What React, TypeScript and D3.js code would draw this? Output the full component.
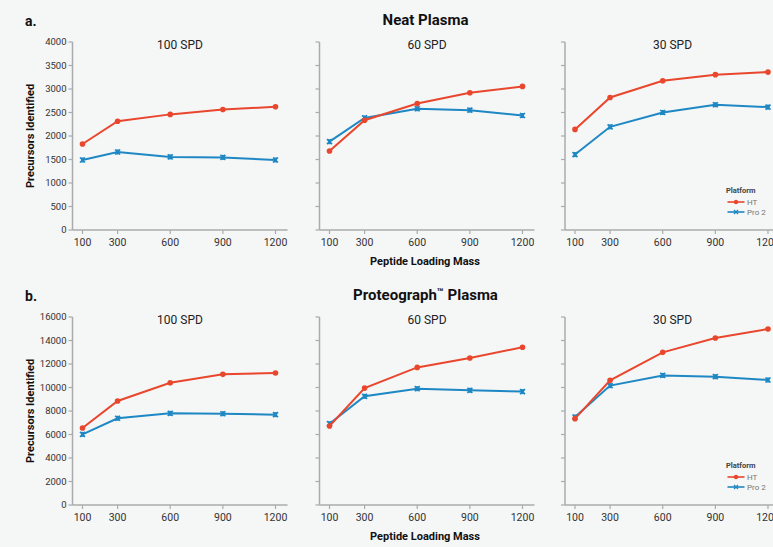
import React from "react";
import * as d3 from "d3";

// peptide loading mass (ng)
const loads = [100, 300, 600, 900, 1200];
const spdLabels = ["100 SPD", "60 SPD", "30 SPD"];

// Neat plasma, precursors identified
const neatHT = [
  [1830, 2315, 2460, 2565, 2620],
  [1680, 2335, 2690, 2920, 3055],
  [2140, 2820, 3175, 3305, 3360],
];
const neatPro2 = [
  [1490, 1660, 1555, 1545, 1490],
  [1880, 2385, 2580, 2550, 2435],
  [1605, 2195, 2500, 2665, 2615],
];

// Proteograph plasma, precursors identified
const protHT = [
  [6550, 8850, 10410, 11120, 11230],
  [6720, 9950, 11710, 12510, 13420],
  [7350, 10610, 12990, 14210, 14980],
];
const protPro2 = [
  [6010, 7380, 7800, 7770, 7690],
  [6920, 9250, 9900, 9760, 9650],
  [7490, 10160, 11030, 10920, 10640],
];

const neatTicks = [0, 500, 1000, 1500, 2000, 2500, 3000, 3500, 4000];
const protTicks = [0, 2000, 4000, 6000, 8000, 10000, 12000, 14000, 16000];

const RED = "#E9472D";
const BLUE = "#1E88C4";
const AXIS = "#a9abad";
const FONT = "Roboto, 'Noto Sans', sans-serif";

const panelX = [72.5, 319.5, 565];
const panelW = 215;
const panelH = 188;

function Panel(props: {
  x0: number;
  top: number;
  ht: number[];
  pro: number[];
  ticks: number[];
  title: string;
  showY: boolean;
  legend: boolean;
}) {
  const { x0, top, ht, pro, ticks, title, showY, legend } = props;
  const x = d3.scaleLinear().domain([100, 1200]).range([x0 + 10, x0 + 203]);
  const y = d3.scaleLinear().domain([0, ticks[ticks.length - 1]]).range([top + panelH, top]);
  const line = d3.line<number>()
    .x((d, i) => x(loads[i]))
    .y((d) => y(d));
  const bottom = top + panelH;

  return (
    <g>
      <line x1={x0} x2={x0} y1={top} y2={bottom} stroke={AXIS} strokeWidth={1.5} />
      <line x1={x0} x2={x0 + panelW} y1={bottom} y2={bottom} stroke={AXIS} strokeWidth={1.5} />
      {ticks.map((t) => (
        <g key={t}>
          <line x1={x0 - 4} x2={x0} y1={y(t)} y2={y(t)} stroke={AXIS} strokeWidth={1.2} />
          {showY && (
            <text x={x0 - 6} y={y(t)} dy="0.35em" textAnchor="end" fontSize={9.5} fill="#333">
              {t}
            </text>
          )}
        </g>
      ))}
      {loads.map((l) => (
        <g key={l}>
          <line x1={x(l)} x2={x(l)} y1={bottom} y2={bottom + 4} stroke={AXIS} strokeWidth={1.2} />
          <text x={x(l)} y={bottom + 16} textAnchor="middle" fontSize={10.5} fill="#333">
            {l}
          </text>
        </g>
      ))}
      <text x={x0 + panelW / 2} y={top + 7} textAnchor="middle" fontSize={12} fill="#222">
        {title}
      </text>

      <path d={line(pro) || ""} fill="none" stroke={BLUE} strokeWidth={2} />
      {pro.map((v, i) => (
        <g key={i} transform={`translate(${x(loads[i])},${y(v)})`}>
          <path d="M-2.5,-2.5L2.5,2.5M-2.5,2.5L2.5,-2.5" stroke={BLUE} strokeWidth={1.6} />
          <rect x={-1.5} y={-2.5} width={3} height={5} fill={BLUE} />
        </g>
      ))}
      <path d={line(ht) || ""} fill="none" stroke={RED} strokeWidth={2} />
      {ht.map((v, i) => (
        <circle key={i} cx={x(loads[i])} cy={y(v)} r={2.8} fill={RED} />
      ))}

      {legend && (
        <g transform={`translate(${x0 + 161},${bottom - 37})`}>
          <text x={0} y={0} fontSize={7.5} fontWeight="bold" fill="#444">Platform</text>
          <line x1={1.5} x2={18.5} y1={9} y2={9} stroke={RED} strokeWidth={1.6} />
          <circle cx={10} cy={9} r={2.2} fill={RED} />
          <text x={21} y={9} dy="0.35em" fontSize={8} fill="#777">HT</text>
          <line x1={1.5} x2={18.5} y1={19} y2={19} stroke={BLUE} strokeWidth={1.6} />
          <path d="M8,17L12,21M8,21L12,17" stroke={BLUE} strokeWidth={1.3} />
          <text x={21} y={19} dy="0.35em" fontSize={8} fill="#777">Pro 2</text>
        </g>
      )}
    </g>
  );
}

function Row(props: {
  top: number;
  letter: string;
  heading: React.ReactNode;
  ht: number[][];
  pro: number[][];
  ticks: number[];
}) {
  const { top, letter, heading, ht, pro, ticks } = props;
  return (
    <g>
      <text x={25} y={top - 16} fontSize={14} fontWeight="bold" fill="#111">{letter}</text>
      <text x={425.5} y={top - 17} textAnchor="middle" fontSize={15} fontWeight="bold" fill="#111">
        {heading}
      </text>
      <text
        transform={`translate(34,${top + panelH / 2}) rotate(-90)`}
        textAnchor="middle"
        fontSize={11}
        fontWeight="bold"
        fill="#111"
      >
        Precursors Identified
      </text>
      {panelX.map((px, i) => (
        <Panel
          key={i}
          x0={px}
          top={top}
          ht={ht[i]}
          pro={pro[i]}
          ticks={ticks}
          title={spdLabels[i]}
          showY={i === 0}
          legend={i === 2}
        />
      ))}
      <text x={425} y={top + panelH + 35} textAnchor="middle" fontSize={11} fontWeight="bold" fill="#111">
        Peptide Loading Mass
      </text>
    </g>
  );
}

export default function App() {
  return (
    <svg
      width={773}
      height={547}
      style={{ position: "absolute", left: 0, top: 0, background: "#f5f6f6", fontFamily: FONT }}
    >
      <Row top={42} letter="a." heading="Neat Plasma" ht={neatHT} pro={neatPro2} ticks={neatTicks} />
      <Row
        top={317}
        letter="b."
        heading={
          <>
            Proteograph
            <tspan fontSize={11} dy={-4}>™</tspan>
            <tspan dy={4}> Plasma</tspan>
          </>
        }
        ht={protHT}
        pro={protPro2}
        ticks={protTicks}
      />
    </svg>
  );
}
